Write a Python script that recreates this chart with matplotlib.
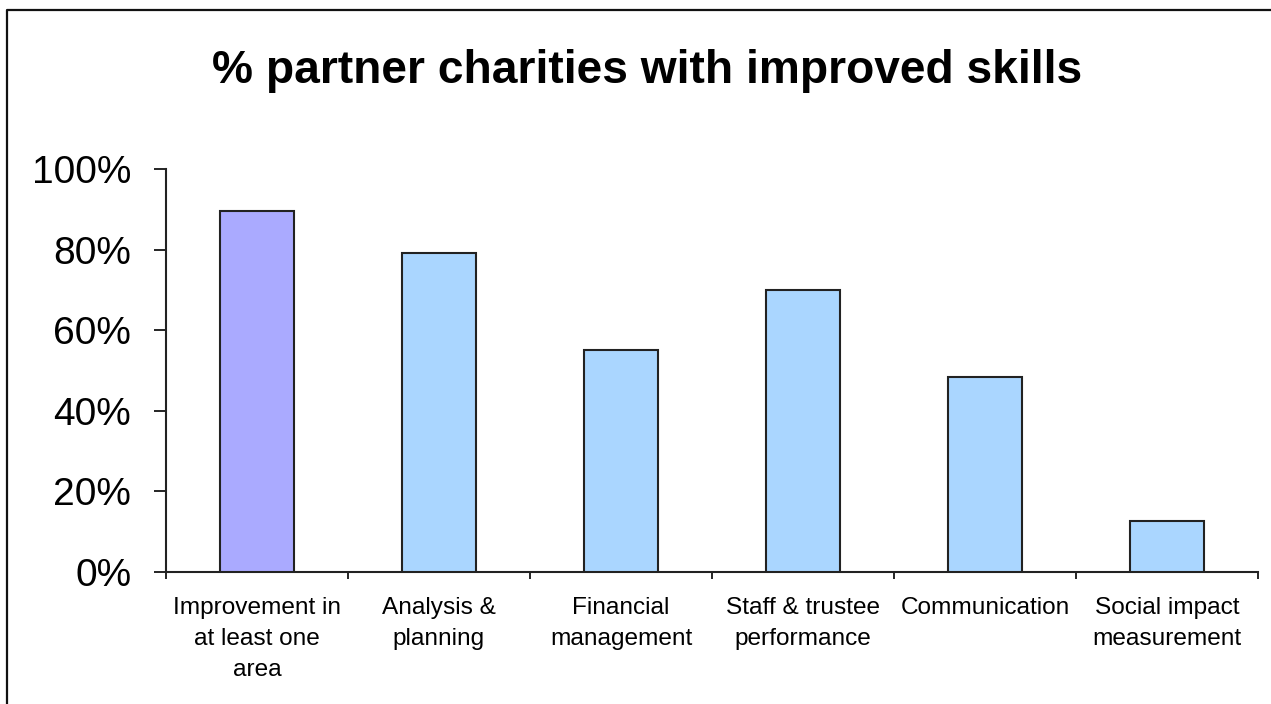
import matplotlib
matplotlib.use("Agg")
import matplotlib.pyplot as plt
from matplotlib.lines import Line2D
from matplotlib.ticker import FuncFormatter, FixedLocator
import numpy as np

plt.rcParams['font.family'] = ['Liberation Sans', 'DejaVu Sans']

categories = ["Improvement in\nat least one\narea", "Analysis &\nplanning", "Financial\nmanagement",
              "Staff & trustee\nperformance", "Communication", "Social impact\nmeasurement"]
values = [0.897, 0.792, 0.552, 0.70, 0.484, 0.127]
colors = ["#AAAAFF", "#AAD6FF", "#AAD6FF", "#AAD6FF", "#AAD6FF", "#AAD6FF"]
yticks = [0, 0.2, 0.4, 0.6, 0.8, 1.0]
title = "% partner charities with improved skills"

W, H = 1271, 704
fig = plt.figure(figsize=(W / 100, H / 100), dpi=100)
ax = fig.add_axes([166 / W, 1 - 572 / H, (1258 - 166) / W, (572 - 169) / H])

x = np.arange(len(categories))
ax.bar(x, values, width=0.41, color=colors, edgecolor="#222222", linewidth=1.5, zorder=3)

ax.set_xlim(-0.5, len(categories) - 0.5)
ax.set_ylim(0, 1.0)
ax.set_yticks(yticks)
ax.yaxis.set_major_formatter(FuncFormatter(lambda v, p: f"{v*100:.0f}%"))
ax.tick_params(axis="y", direction="out", length=9, width=1.2, pad=16, labelsize=28, colors="black")

ax.set_xticks(x)
ax.set_xticklabels(categories, fontsize=17.6, linespacing=1.52)
ax.xaxis.set_minor_locator(FixedLocator(np.arange(-0.5, len(categories), 1.0)))
ax.tick_params(axis="x", which="major", length=0, pad=18)
ax.tick_params(axis="x", which="minor", direction="out", length=5, width=1.2)

for s in ["top", "right"]:
    ax.spines[s].set_visible(False)
for s in ["left", "bottom"]:
    ax.spines[s].set_linewidth(1.5)
    ax.spines[s].set_color("#222222")

fig.text(647.5 / W, 1 - 83 / H, title, ha="center", va="baseline", fontsize=33.2, fontweight="bold")

fig.add_artist(Line2D([7 / W, 7 / W, 1.0], [0.0, 1 - 10 / H, 1 - 10 / H], transform=fig.transFigure,
                      color="#111111", linewidth=1.6))

fig.savefig("out.png", dpi=100)
